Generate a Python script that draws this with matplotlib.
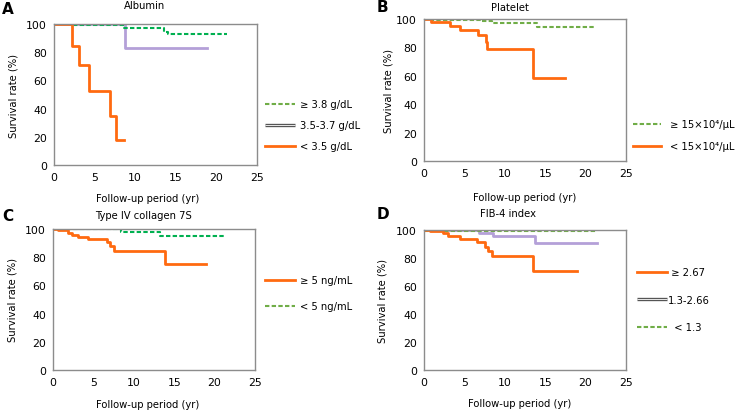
import numpy as np
import matplotlib
matplotlib.use('Agg')
import matplotlib.pyplot as plt
import matplotlib.patheffects as pe
from matplotlib.lines import Line2D

plt.rcParams['font.family'] = ['DejaVu Sans']

# curves: step times (yr), survival (%), end of follow-up (yr)
# A Albumin
alb_hi_t = [0, 2.5, 8.5, 13.5, 14.0]
alb_hi_s = [100, 99, 97, 94.5, 93]
alb_hi_end = 21.3
alb_mid_t = [0, 8.7]
alb_mid_s = [100, 82.7]
alb_mid_end = 18.8
alb_lo_t = [0, 2.2, 3.1, 4.3, 6.9, 7.65]
alb_lo_s = [100, 84.6, 70.6, 52.6, 34.8, 17.6]
alb_lo_end = 8.6

# B Platelet
plt_hi_t = [0, 1.0, 7.2, 8.4, 14.0]
plt_hi_s = [100, 99.5, 98.6, 97, 94.4]
plt_hi_end = 21.0
plt_lo_t = [0, 0.83, 3.2, 4.4, 6.7, 7.7, 7.85, 13.55]
plt_lo_s = [100, 98.1, 95.3, 92.5, 89, 83.6, 78.7, 58.3]
plt_lo_end = 17.5

# C Type IV collagen 7S
col_hi_t = [0, 0.6, 1.86, 2.3, 3.1, 4.3, 6.7, 7.0, 7.5, 13.85]
col_hi_s = [100, 99, 97.2, 95.5, 94.3, 92.6, 90.7, 87.9, 84.1, 75.3]
col_hi_end = 18.9
col_lo_t = [0, 8.47, 13.3]
col_lo_s = [100, 97.9, 94.8]
col_lo_end = 21.4

# D FIB-4 index
fib_hi_t = [0, 0.74, 2.3, 3.0, 4.4, 6.6, 7.56, 7.97, 8.4, 13.5]
fib_hi_s = [100, 99.2, 97.6, 95.9, 93.6, 91.2, 87.6, 85.2, 81.2, 71]
fib_hi_end = 18.9
fib_mid_t = [0, 6.86, 8.5, 13.75]
fib_mid_s = [100, 97.6, 95.9, 90.4]
fib_mid_end = 21.4
fib_lo_t = [0]
fib_lo_s = [99.6]
fib_lo_end = 21.4

x_ticks = [0, 5, 10, 15, 20, 25]
y_ticks = [0, 20, 40, 60, 80, 100]

ORANGE = '#ff6a10'
GREEN = '#00b050'
LGREEN = '#70ad47'
PURPLE = '#b4a0d8'
FS = 7.2

W, H = 741, 414
fig = plt.figure(figsize=(W / 100, H / 100), dpi=100)


def add_ax(left, top, right, bottom):
    return fig.add_axes([left / W, 1 - bottom / H, (right - left) / W, (bottom - top) / H])


def km(ax, t, s, end, **kw):
    tt = list(t) + [end]
    ss = list(s) + [s[-1]]
    ax.step(tt, ss, where='post', **kw)


def style(ax, title, tx, ty, xl_x, xl_y, yl_x):
    ax.set_xlim(0, 25)
    ax.set_ylim(0, 100)
    ax.set_xticks(x_ticks)
    ax.set_yticks(y_ticks)
    ax.tick_params(length=0, labelsize=7.8, pad=5)
    for sp in ax.spines.values():
        sp.set_color('#8c8c8c')
        sp.set_linewidth(1.0)
    ax.set_xlabel('Follow-up period (yr)', fontsize=FS)
    ax.set_ylabel('Survival rate (%)', fontsize=FS)
    ax.xaxis.set_label_coords(xl_x, xl_y)
    ax.yaxis.set_label_coords(yl_x, 0.5)
    ax.text(tx, ty, title, transform=ax.transAxes, fontsize=FS, ha='center', va='center')


def double_handle():
    return Line2D([], [], color='white', lw=0.6, solid_capstyle='butt',
                  path_effects=[pe.Stroke(linewidth=2.4, foreground='#555555',
                                          capstyle='butt'), pe.Normal()])


dash_kw = dict(linestyle=(0, (2.1, 1.1)), lw=1.5)
leg_kw = dict(bbox_transform=fig.transFigure, frameon=False, fontsize=FS,
              borderpad=0, borderaxespad=0, loc='upper left')

# ---- A ----
axA = add_ax(54, 25, 257, 166)
km(axA, alb_mid_t, alb_mid_s, alb_mid_end, color=PURPLE, lw=2.0)
km(axA, alb_hi_t, alb_hi_s, alb_hi_end, color=GREEN, **dash_kw)
km(axA, alb_lo_t, alb_lo_s, alb_lo_end, color=ORANGE, lw=2.0)
style(axA, 'Albumin', 0.448, 1.135, 0.463, -0.2, -0.177)
hA = [Line2D([], [], color=LGREEN, **dash_kw), double_handle(),
      Line2D([], [], color=ORANGE, lw=2.0)]
axA.legend(hA, ['\u2265 3.8 g/dL', '3.5-3.7 g/dL', '< 3.5 g/dL'],
           bbox_to_anchor=(265 / W, 1 - 100 / H),
           handlelength=3.0, handletextpad=0.5, labelspacing=1.1, **leg_kw)

# ---- B ----
axB = add_ax(424, 20, 626, 162)
km(axB, plt_hi_t, plt_hi_s, plt_hi_end, color=LGREEN, **dash_kw)
km(axB, plt_lo_t, plt_lo_s, plt_lo_end, color=ORANGE, lw=2.0)
style(axB, 'Platelet', 0.426, 1.085, 0.498, -0.218, -0.153)
hB = [Line2D([], [], color=LGREEN, **dash_kw), Line2D([], [], color=ORANGE, lw=2.0)]
axB.legend(hB, ['\u2265 15\u00d710\u2074/\u03bcL', '< 15\u00d710\u2074/\u03bcL'],
           bbox_to_anchor=(633 / W, 1 - 120 / H),
           handlelength=2.8, handletextpad=0.9, labelspacing=1.2, **leg_kw)

# ---- C ----
axC = add_ax(53, 230, 255, 371)
km(axC, col_lo_t, col_lo_s, col_lo_end, color=GREEN, **dash_kw)
km(axC, col_hi_t, col_hi_s, col_hi_end, color=ORANGE, lw=2.0)
style(axC, 'Type IV collagen 7S', 0.446, 1.1, 0.468, -0.205, -0.178)
hC = [Line2D([], [], color=ORANGE, lw=2.0), Line2D([], [], color=LGREEN, **dash_kw)]
axC.legend(hC, ['\u2265 5 ng/mL', '< 5 ng/mL'],
           bbox_to_anchor=(265 / W, 1 - 276 / H),
           handlelength=3.0, handletextpad=0.5, labelspacing=1.6, **leg_kw)

# ---- D ----
axD = add_ax(424, 231, 626, 371)
km(axD, fib_mid_t, fib_mid_s, fib_mid_end, color=PURPLE, lw=2.0)
km(axD, fib_lo_t, fib_lo_s, fib_lo_end, color=LGREEN, **dash_kw)
km(axD, fib_hi_t, fib_hi_s, fib_hi_end, color=ORANGE, lw=2.0)
style(axD, 'FIB-4 index', 0.416, 1.12, 0.474, -0.2, -0.183)
hD = [Line2D([], [], color=ORANGE, lw=2.0), double_handle(),
      Line2D([], [], color=LGREEN, **dash_kw)]
axD.legend(hD, [' \u2265 2.67', '1.3-2.66', '  < 1.3'],
           bbox_to_anchor=(637 / W, 1 - 268 / H),
           handlelength=3.0, handletextpad=0.05, labelspacing=1.75, **leg_kw)

# panel letters
for lab, x, y in [('A', 2, 10), ('B', 377, 8), ('C', 2, 217), ('D', 377, 215)]:
    fig.text(x / W, 1 - y / H, lab, fontsize=11, fontweight='bold', ha='left', va='center')

fig.savefig('out.png', dpi=100)
